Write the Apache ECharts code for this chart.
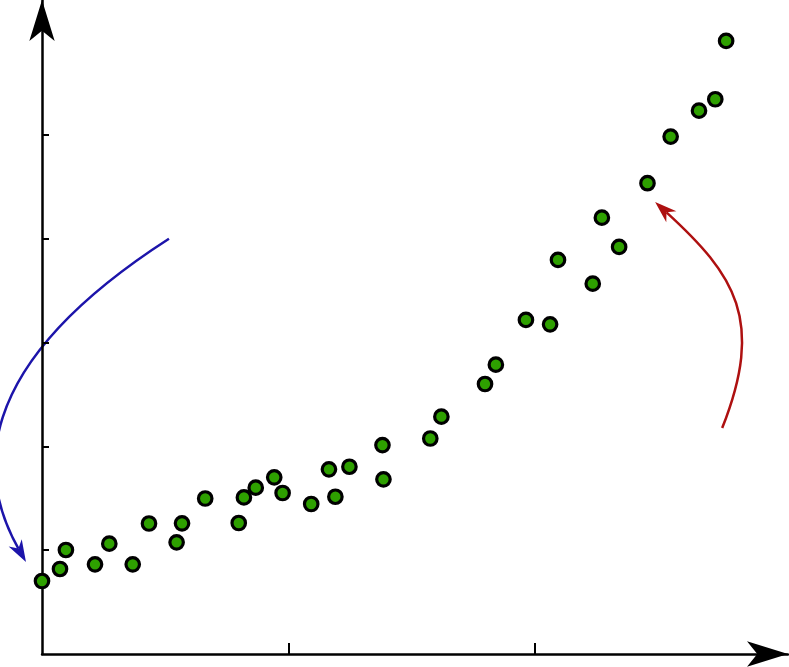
<!DOCTYPE html>
<html>
<head>
<meta charset="utf-8">
<style>
  html, body { margin: 0; padding: 0; background: #fff; }
  #main { width: 789px; height: 667px; }
</style>
<script src="https://cdn.jsdelivr.net/npm/echarts@6/dist/echarts.min.js"></script>
</head>
<body>
<div id="main"></div>
<script>
// scatter values (x, y)
var xValues = [0.000, 0.073, 0.097, 0.215, 0.273, 0.368, 0.434, 0.546, 0.568, 0.662,
               0.798, 0.819, 0.867, 0.942, 0.976, 1.092, 1.164, 1.190, 1.247, 1.381,
               1.385, 1.575, 1.620, 1.797, 1.841, 1.963, 2.061, 2.093, 2.234, 2.271,
               2.341, 2.456, 2.550, 2.665, 2.731, 2.775];
var yValues = [0.703, 0.819, 1.002, 0.864, 1.063, 0.864, 1.257, 1.076, 1.259, 1.498,
               1.262, 1.508, 1.602, 1.702, 1.551, 1.445, 1.779, 1.515, 1.804, 2.013,
               1.683, 2.076, 2.286, 2.601, 2.787, 3.218, 3.176, 3.796, 3.567, 4.203,
               3.921, 4.535, 4.984, 5.234, 5.344, 5.906];

var xTicks = [1, 2];
var yTicks = [1, 2, 3, 4, 5];

// annotation arrows: cubic bezier control points in data units (start, c1, c2, tip)
var blueCurve = [[0.515, 4.0], [-0.312, 2.736], [-0.252, 1.676], [-0.065, 0.886]];
var redCurve = [[2.759, 2.177], [2.933, 3.218], [2.811, 3.651], [2.487, 4.355]];

var myChart = echarts.init(document.getElementById('main'));

var points = xValues.map(function (x, i) {
    return [x, yValues[i]];
});

var option = {
    animation: false,
    grid: { left: 42, right: 1, top: 0, bottom: 13 },
    xAxis: {
        type: 'value',
        min: 0,
        max: 3.026,
        axisLine: {
            show: true,
            symbol: ['none', 'arrow'],
            symbolSize: [19, 41],
            lineStyle: { color: '#000', width: 2.5 }
        },
        axisTick: {
            show: true,
            inside: true,
            length: 11,
            customValues: xTicks,
            lineStyle: { color: '#000', width: 2 }
        },
        axisLabel: { show: false },
        splitLine: { show: false }
    },
    yAxis: {
        type: 'value',
        min: 0,
        max: 6.30,
        axisLine: {
            show: true,
            symbol: ['none', 'arrow'],
            symbolSize: [19, 41],
            lineStyle: { color: '#000', width: 2.5 }
        },
        axisTick: {
            show: true,
            inside: true,
            length: 7,
            customValues: yTicks,
            lineStyle: { color: '#000', width: 2 }
        },
        axisLabel: { show: false },
        splitLine: { show: false }
    },
    series: [{
        type: 'scatter',
        data: points,
        clip: false,
        symbol: 'circle',
        symbolSize: 13.5,
        itemStyle: {
            color: '#2ea000',
            borderColor: '#000',
            borderWidth: 3.2,
            opacity: 1
        }
    }]
};

myChart.setOption(option);

// build the curved arrows from data coordinates
function arrowGraphics(curve, color) {
    var p = curve.map(function (c) {
        return myChart.convertToPixel({ gridIndex: 0 }, c);
    });
    var dx = p[3][0] - p[2][0], dy = p[3][1] - p[2][1];
    var len = Math.sqrt(dx * dx + dy * dy);
    dx /= len; dy /= len;
    var L = 22, W = 7.5;
    var tip = p[3];
    var back = [tip[0] - dx * L, tip[1] - dy * L];
    var notch = [tip[0] - dx * L * 0.7, tip[1] - dy * L * 0.7];
    return [{
        type: 'bezierCurve',
        shape: {
            x1: p[0][0], y1: p[0][1],
            cpx1: p[1][0], cpy1: p[1][1],
            cpx2: p[2][0], cpy2: p[2][1],
            x2: notch[0], y2: notch[1]
        },
        style: { stroke: color, lineWidth: 2.5, fill: null }
    }, {
        type: 'polygon',
        shape: {
            points: [
                tip,
                [back[0] - dy * W, back[1] + dx * W],
                notch,
                [back[0] + dy * W, back[1] - dx * W]
            ]
        },
        style: { fill: color }
    }];
}

myChart.setOption({
    graphic: arrowGraphics(blueCurve, '#1c14aa').concat(arrowGraphics(redCurve, '#ae1010'))
});
</script>
</body>
</html>
